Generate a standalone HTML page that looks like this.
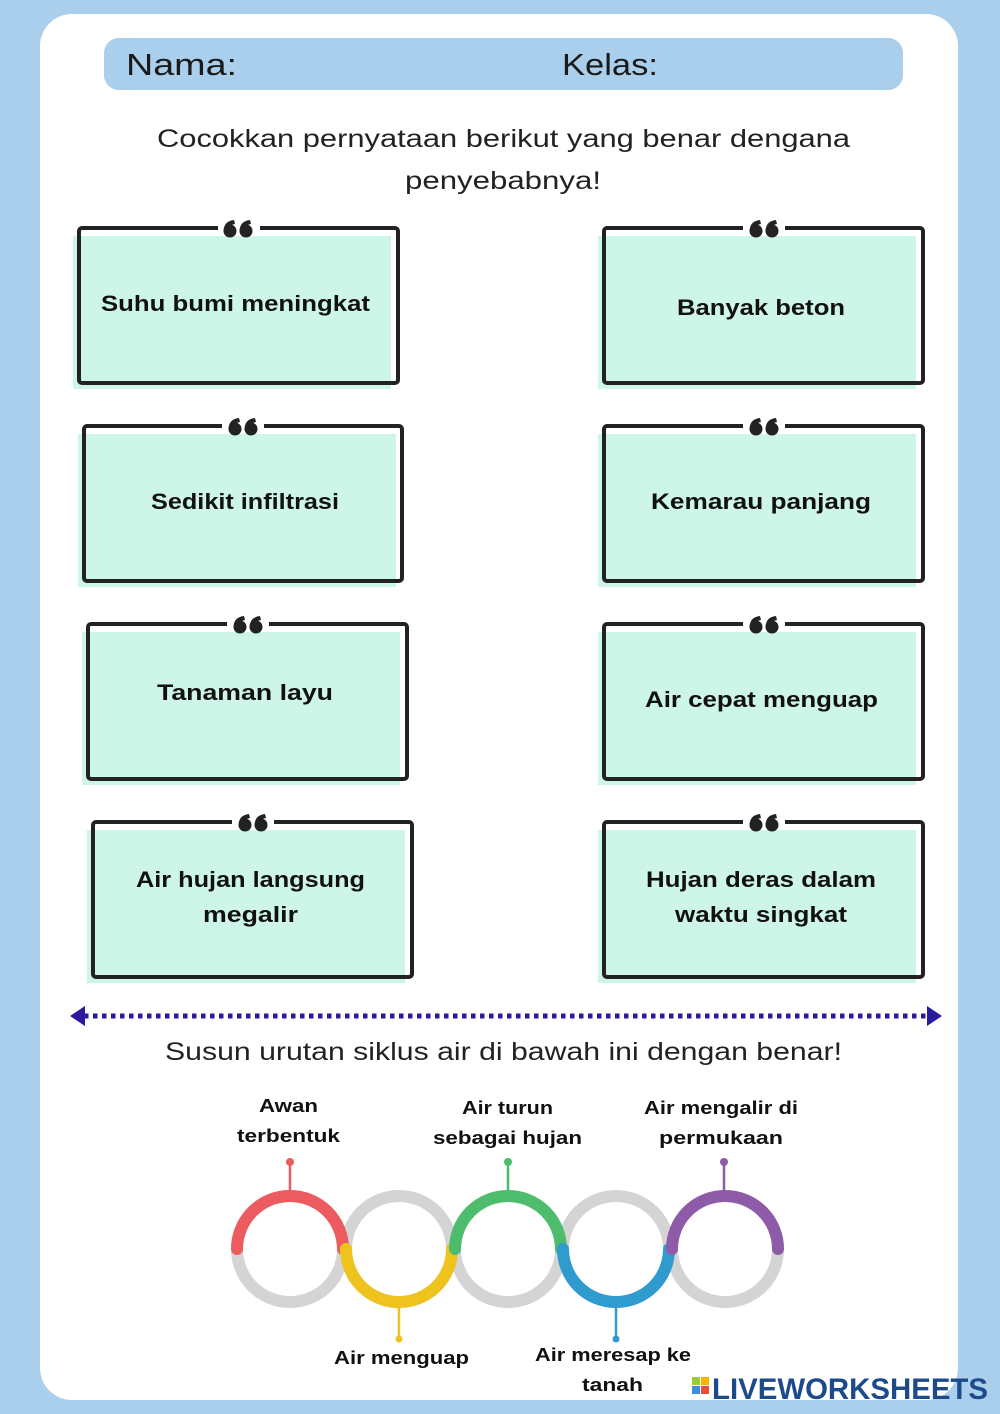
<!DOCTYPE html>
<html><head><meta charset="utf-8"><style>
html,body{margin:0;padding:0;background:#aacfec;}
svg{display:block}
text{font-family:"Liberation Sans",sans-serif;}
</style></head><body>
<svg width="1000" height="1414" viewBox="0 0 1000 1414" xmlns="http://www.w3.org/2000/svg">
<rect x="0" y="0" width="1000" height="1414" fill="#aacfec"/>
<rect x="40" y="14" width="918" height="1386" rx="32" fill="#ffffff"/>
<rect x="104" y="38" width="799" height="52" rx="15" fill="#aacfec"/>
<text x="126" y="75" font-size="31" fill="#1a1a1a" textLength="111" lengthAdjust="spacingAndGlyphs">Nama:</text>
<text x="562" y="75" font-size="31" fill="#1a1a1a" textLength="96" lengthAdjust="spacingAndGlyphs">Kelas:</text>
<text x="157" y="147" font-size="25" fill="#222" textLength="693" lengthAdjust="spacingAndGlyphs">Cocokkan pernyataan berikut yang benar dengana</text>
<text x="405" y="189" font-size="25" fill="#222" textLength="196" lengthAdjust="spacingAndGlyphs">penyebabnya!</text>

<defs>
<g id="q">
<circle cx="-8" cy="4" r="6.5" fill="#222"/><path d="M-14.5,4 Q-14,-6 -4,-7 L-3,-3 Q-9,-2 -9,3Z" fill="#222"/>
<circle cx="8" cy="4" r="6.5" fill="#222"/><path d="M1.5,4 Q2,-6 12,-7 L13,-3 Q7,-2 7,3Z" fill="#222"/>
</g>
</defs>

<g font-size="22" font-weight="bold" fill="#111" lengthAdjust="spacingAndGlyphs">
<rect x="73" y="236" width="318" height="153" fill="#cdf5e8"/>
<rect x="79" y="228" width="319" height="155" rx="3" fill="none" stroke="#222" stroke-width="4"/>
<rect x="218" y="220" width="42" height="16" fill="#fff"/><use href="#q" x="238" y="227"/>
<text x="101" y="311" textLength="269" lengthAdjust="spacingAndGlyphs">Suhu bumi meningkat</text>

<rect x="78" y="434" width="318" height="153" fill="#cdf5e8"/>
<rect x="84" y="426" width="318" height="155" rx="3" fill="none" stroke="#222" stroke-width="4"/>
<rect x="222" y="418" width="42" height="16" fill="#fff"/><use href="#q" x="243" y="425"/>
<text x="151" y="509" textLength="188" lengthAdjust="spacingAndGlyphs">Sedikit infiltrasi</text>

<rect x="82" y="632" width="318" height="153" fill="#cdf5e8"/>
<rect x="88" y="624" width="319" height="155" rx="3" fill="none" stroke="#222" stroke-width="4"/>
<rect x="227" y="616" width="42" height="16" fill="#fff"/><use href="#q" x="248" y="623"/>
<text x="157" y="700" textLength="176" lengthAdjust="spacingAndGlyphs">Tanaman layu</text>

<rect x="87" y="830" width="318" height="153" fill="#cdf5e8"/>
<rect x="93" y="822" width="319" height="155" rx="3" fill="none" stroke="#222" stroke-width="4"/>
<rect x="232" y="814" width="42" height="16" fill="#fff"/><use href="#q" x="253" y="821"/>
<text x="136" y="887" textLength="229" lengthAdjust="spacingAndGlyphs">Air hujan langsung</text>
<text x="203" y="922" textLength="95" lengthAdjust="spacingAndGlyphs">megalir</text>

<rect x="598" y="236" width="318" height="153" fill="#cdf5e8"/>
<rect x="604" y="228" width="319" height="155" rx="3" fill="none" stroke="#222" stroke-width="4"/>
<rect x="743" y="220" width="42" height="16" fill="#fff"/><use href="#q" x="764" y="227"/>
<text x="677" y="315" textLength="168" lengthAdjust="spacingAndGlyphs">Banyak beton</text>

<rect x="598" y="434" width="318" height="153" fill="#cdf5e8"/>
<rect x="604" y="426" width="319" height="155" rx="3" fill="none" stroke="#222" stroke-width="4"/>
<rect x="743" y="418" width="42" height="16" fill="#fff"/><use href="#q" x="764" y="425"/>
<text x="651" y="509" textLength="220" lengthAdjust="spacingAndGlyphs">Kemarau panjang</text>

<rect x="598" y="632" width="318" height="153" fill="#cdf5e8"/>
<rect x="604" y="624" width="319" height="155" rx="3" fill="none" stroke="#222" stroke-width="4"/>
<rect x="743" y="616" width="42" height="16" fill="#fff"/><use href="#q" x="764" y="623"/>
<text x="645" y="707" textLength="233" lengthAdjust="spacingAndGlyphs">Air cepat menguap</text>

<rect x="598" y="830" width="318" height="153" fill="#cdf5e8"/>
<rect x="604" y="822" width="319" height="155" rx="3" fill="none" stroke="#222" stroke-width="4"/>
<rect x="743" y="814" width="42" height="16" fill="#fff"/><use href="#q" x="764" y="821"/>
<text x="646" y="887" textLength="230" lengthAdjust="spacingAndGlyphs">Hujan deras dalam</text>
<text x="675" y="922" textLength="172" lengthAdjust="spacingAndGlyphs">waktu singkat</text>
</g>

<line x1="84" y1="1016" x2="928" y2="1016" stroke="#2a1a9e" stroke-width="5" stroke-dasharray="4.5 4.5"/>
<path d="M70,1016 L85,1006 L85,1026Z" fill="#2a1a9e"/>
<path d="M942,1016 L927,1006 L927,1026Z" fill="#2a1a9e"/>

<text x="165" y="1060" font-size="25" fill="#222" textLength="677" lengthAdjust="spacingAndGlyphs">Susun urutan siklus air di bawah ini dengan benar!</text>

<g fill="none" stroke-width="12">
<circle cx="290" cy="1249" r="53" stroke="#d4d4d4"/>
<circle cx="399" cy="1249" r="53" stroke="#d4d4d4"/>
<circle cx="508" cy="1249" r="53" stroke="#d4d4d4"/>
<circle cx="616" cy="1249" r="53" stroke="#d4d4d4"/>
<circle cx="725" cy="1249" r="53" stroke="#d4d4d4"/>
<path d="M237,1249 A53,53 0 0 1 343,1249" stroke="#ec5b5f" stroke-linecap="round"/>
<path d="M346,1249 A53,53 0 0 0 452,1249" stroke="#efc31d" stroke-linecap="round"/>
<path d="M455,1249 A53,53 0 0 1 561,1249" stroke="#4dbd6d" stroke-linecap="round"/>
<path d="M563,1249 A53,53 0 0 0 669,1249" stroke="#2f9bcf" stroke-linecap="round"/>
<path d="M672,1249 A53,53 0 0 1 778,1249" stroke="#8e5ba8" stroke-linecap="round"/>
</g>
<g stroke-width="2.5">
<line x1="290" y1="1162" x2="290" y2="1192" stroke="#ec5b5f"/><circle cx="290" cy="1162" r="4" fill="#ec5b5f"/>
<line x1="508" y1="1162" x2="508" y2="1192" stroke="#4dbd6d"/><circle cx="508" cy="1162" r="4" fill="#4dbd6d"/>
<line x1="724" y1="1162" x2="724" y2="1192" stroke="#8e5ba8"/><circle cx="724" cy="1162" r="4" fill="#8e5ba8"/>
<line x1="399" y1="1306" x2="399" y2="1338" stroke="#efc31d"/><circle cx="399" cy="1339" r="3.5" fill="#efc31d"/>
<line x1="616" y1="1306" x2="616" y2="1338" stroke="#2f9bcf"/><circle cx="616" cy="1339" r="3.5" fill="#2f9bcf"/>
</g>
<g font-size="18" font-weight="bold" fill="#111">
<text x="259" y="1112" textLength="59" lengthAdjust="spacingAndGlyphs">Awan</text>
<text x="237" y="1142" textLength="103" lengthAdjust="spacingAndGlyphs">terbentuk</text>
<text x="462" y="1114" textLength="91" lengthAdjust="spacingAndGlyphs">Air turun</text>
<text x="433" y="1144" textLength="149" lengthAdjust="spacingAndGlyphs">sebagai hujan</text>
<text x="644" y="1114" textLength="154" lengthAdjust="spacingAndGlyphs">Air mengalir di</text>
<text x="659" y="1144" textLength="124" lengthAdjust="spacingAndGlyphs">permukaan</text>
<text x="334" y="1364" textLength="135" lengthAdjust="spacingAndGlyphs">Air menguap</text>
<text x="535" y="1361" textLength="156" lengthAdjust="spacingAndGlyphs">Air meresap ke</text>
<text x="582" y="1391" textLength="61" lengthAdjust="spacingAndGlyphs">tanah</text>
</g>

<rect x="692" y="1377" width="8" height="8" fill="#9bcb3c"/><rect x="701" y="1377" width="8" height="8" fill="#f4b400"/>
<rect x="692" y="1386" width="8" height="8" fill="#3b8fd9"/><rect x="701" y="1386" width="8" height="8" fill="#e84c3d"/>
<text x="712" y="1399" font-size="30" font-weight="bold" fill="#1d4a8a" textLength="276" lengthAdjust="spacingAndGlyphs">LIVEWORKSHEETS</text>
</svg>
</body></html>
